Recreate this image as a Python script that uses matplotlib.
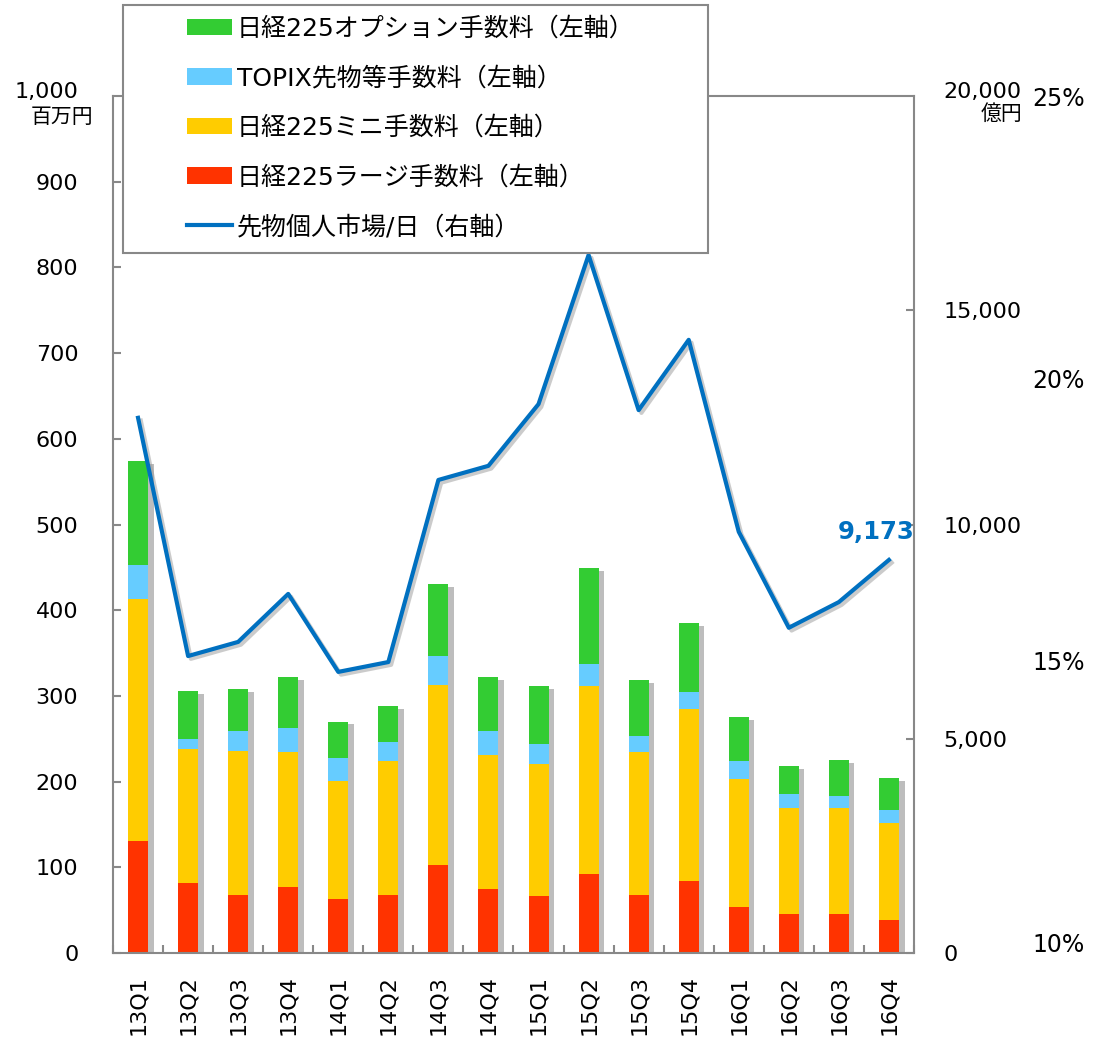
import numpy as np
import matplotlib
matplotlib.use('Agg')
import matplotlib.pyplot as plt
import matplotlib.patheffects as pe
from matplotlib.patches import Rectangle
from matplotlib.lines import Line2D

plt.rcParams['font.family'] = ['DejaVu Sans', 'Noto Sans CJK JP']

quarters = ['13Q1', '13Q2', '13Q3', '13Q4', '14Q1', '14Q2', '14Q3', '14Q4',
            '15Q1', '15Q2', '15Q3', '15Q4', '16Q1', '16Q2', '16Q3', '16Q4']

# fees, million yen (left axis)
large = [131, 82, 68, 77, 63, 68, 103, 75, 66, 92, 68, 84, 54, 45, 45, 38]
mini = [282, 156, 168, 157, 138, 156, 210, 156, 154, 219, 166, 201, 149, 124, 124, 114]
topix = [40, 12, 23, 28, 26, 22, 33, 28, 24, 26, 19, 19, 21, 17, 14, 15]
option = [121, 56, 49, 60, 43, 42, 84, 63, 67, 112, 65, 81, 51, 32, 42, 37]

# individual futures market per day, 100 million yen (right axis)
retail = [12490, 6930, 7260, 8380, 6560, 6790, 11040, 11370, 12810, 16290,
          12670, 14310, 9830, 7590, 8190, 9173]

left_ticks = [0, 100, 200, 300, 400, 500, 600, 700, 800, 900]
right_ticks = [0, 5000, 10000, 15000]
pct_ticks = [10, 15, 20, 25]

labels = ['日経225オプション手数料（左軸）', 'TOPIX先物等手数料（左軸）',
          '日経225ミニ手数料（左軸）', '日経225ラージ手数料（左軸）',
          '先物個人市場/日（右軸）']

c_green = '#33CC33'
c_blue = '#66CCFF'
c_yellow = '#FFCC00'
c_red = '#FF3300'
c_line = '#0070C0'
c_axis = '#888888'

fig = plt.figure(figsize=(10.93, 10.44), dpi=100)
ax = fig.add_axes([0.1034, 0.0872, 0.7328, 0.8208])

x = np.arange(len(quarters))
w = 0.4

# shadow under whole stack
totals = np.array(large) + np.array(mini) + np.array(topix) + np.array(option)
ax.bar(x, totals, w, color='white', zorder=1.5,
       path_effects=[pe.SimplePatchShadow(offset=(4, -2), shadow_rgbFace='#888888', alpha=0.55), pe.Normal()])

b1 = ax.bar(x, large, w, color=c_red, zorder=2)
bottom = np.array(large, dtype=float)
b2 = ax.bar(x, mini, w, bottom=bottom, color=c_yellow, zorder=2)
bottom += mini
b3 = ax.bar(x, topix, w, bottom=bottom, color=c_blue, zorder=2)
bottom += topix
b4 = ax.bar(x, option, w, bottom=bottom, color=c_green, zorder=2)

ax.set_xlim(-0.5, len(quarters) - 0.5)
ax.set_ylim(0, 1000)
ax.set_yticks(left_ticks)
ax.set_yticklabels([str(v) for v in left_ticks])
ax.set_xticks(x)
ax.set_xticklabels(quarters, rotation=90)
ax.set_xticks(np.arange(len(quarters) + 1) - 0.5, minor=True)
ax.tick_params(axis='x', which='major', length=0, pad=16, labelsize=16)
ax.tick_params(axis='x', which='minor', direction='in', length=6, color=c_axis, width=1.5)
ax.tick_params(axis='y', direction='in', length=6, color=c_axis, width=1.5, pad=25, labelsize=16)
for s in ax.spines.values():
    s.set_color(c_axis)
    s.set_linewidth(1.5)

# right axis
ax2 = ax.twinx()
ax2.set_ylim(0, 20000)
ax2.set_yticks(right_ticks)
ax2.set_yticklabels([f'{v:,}' for v in right_ticks])
ax2.tick_params(axis='y', direction='in', length=6, color=c_axis, width=1.5, pad=21, labelsize=16)
for s in ax2.spines.values():
    s.set_visible(False)
ax2.plot(x, retail, color=c_line, lw=3, zorder=3,
         path_effects=[pe.SimpleLineShadow(offset=(2, -2), shadow_color='#999999', alpha=0.5), pe.Normal()])
ax2.annotate(f'{retail[-1]:,}', xy=(x[-1], retail[-1]), xytext=(-9, 20), textcoords='offset points',
             ha='center', va='center', color=c_line, fontsize=17.5, fontweight='bold')

# percent labels far right
ax3 = ax.twinx()
ax3.set_ylim(9.82, 25)
ax3.set_yticks(pct_ticks)
ax3.set_yticklabels([f'{v}%' for v in pct_ticks])
ax3.tick_params(axis='y', length=0, pad=85, labelsize=17)
for s in ax3.spines.values():
    s.set_visible(False)

# top axis labels with units
fig.text(78 / 1093, 1 - 92 / 1044, '1,000', ha='right', va='center', fontsize=16)
fig.text(93 / 1093, 1 - 117 / 1044, '百万円', ha='right', va='center', fontsize=15)
fig.text(943 / 1093, 1 - 92 / 1044, '20,000', ha='left', va='center', fontsize=16)
fig.text(1022 / 1093, 1 - 114 / 1044, '億円', ha='right', va='center', fontsize=15)

# legend box
box = Rectangle((123 / 1093, 1 - 253 / 1044), (708 - 123) / 1093, (253 - 5) / 1044,
                transform=fig.transFigure, facecolor='white', edgecolor=c_axis, lw=1.5, zorder=5)
fig.patches.append(box)
ln_handle = Line2D([], [], color=c_line, lw=3)
leg = fig.legend([b4, b3, b2, b1, ln_handle], labels, loc='upper left',
                 bbox_to_anchor=(187 / 1093, 1 - 17 / 1044), frameon=False,
                 fontsize=18, handlelength=1.8, handleheight=0.64, handletextpad=0.2,
                 labelspacing=1.02, borderpad=0, borderaxespad=0)
leg.set_zorder(6)

fig.savefig('out.png', dpi=100)
